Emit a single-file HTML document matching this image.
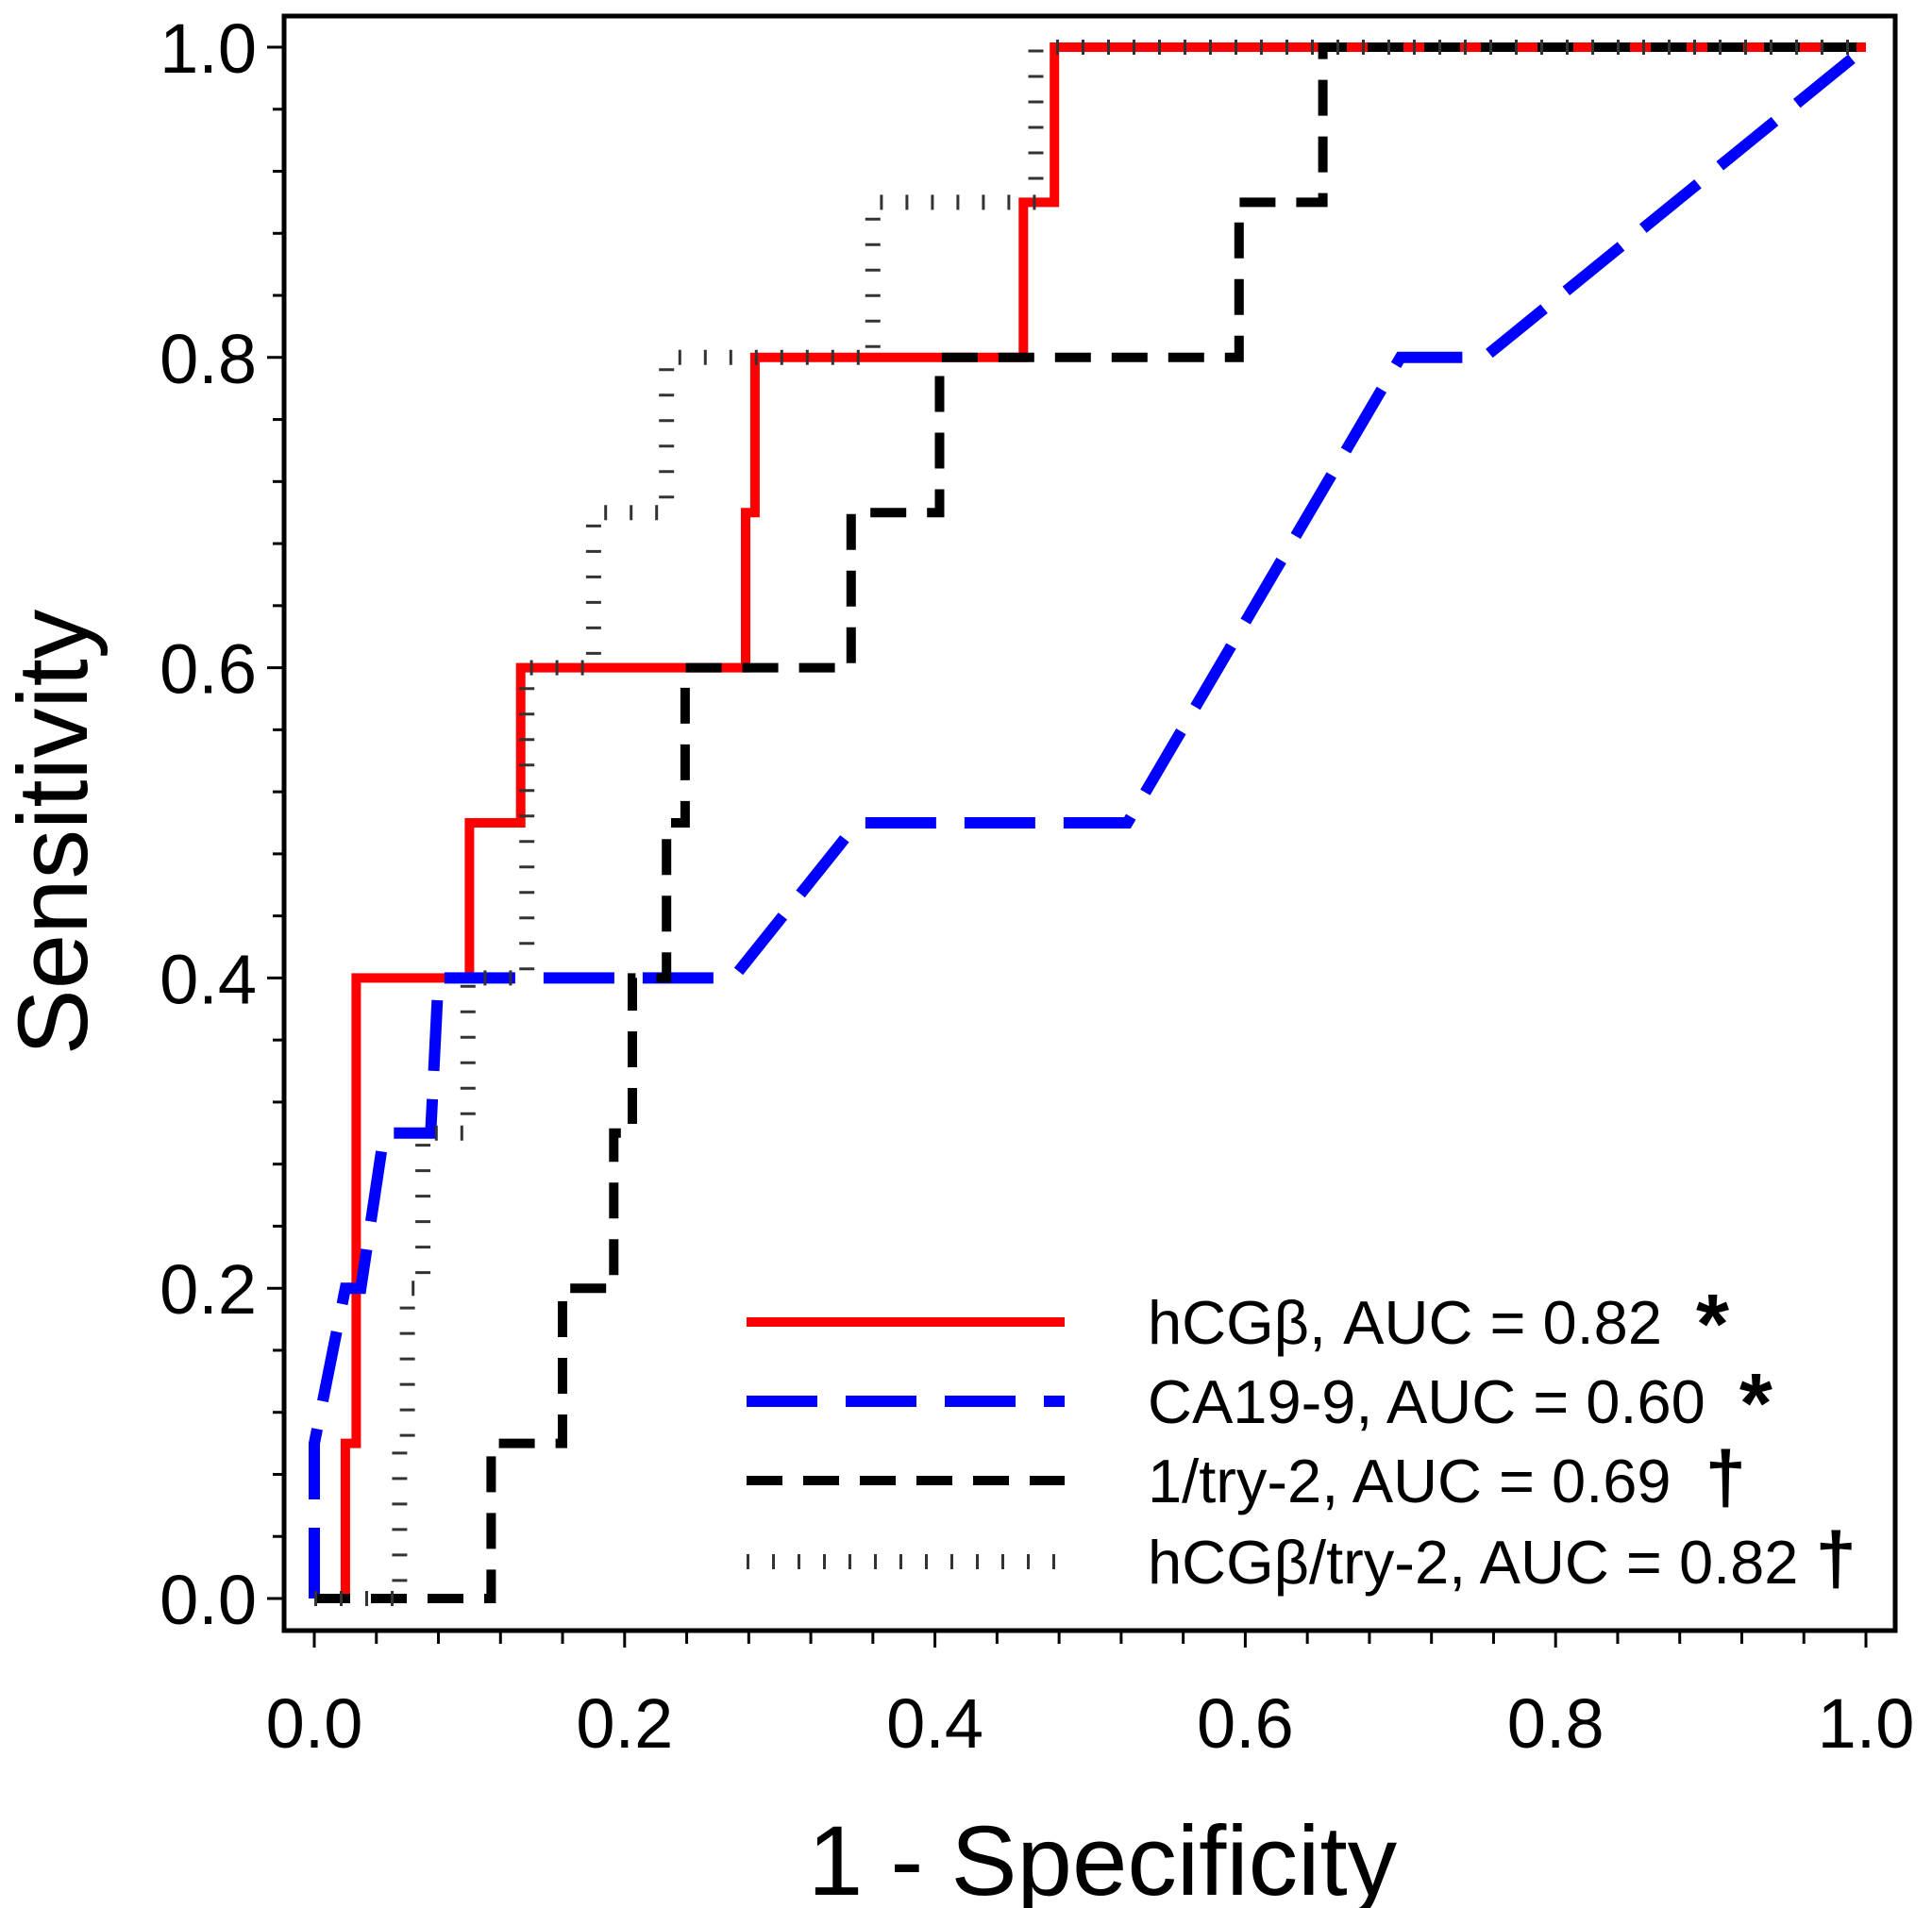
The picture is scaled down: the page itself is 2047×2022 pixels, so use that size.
<!DOCTYPE html>
<html><head><meta charset="utf-8"><style>
body{margin:0;background:#fff}
svg{display:block}
text{font-family:"Liberation Sans",sans-serif;fill:#000}
</style></head><body>
<svg id="chart" width="2047" height="2022" viewBox="0 0 2047 2022" xmlns="http://www.w3.org/2000/svg">
<rect x="0" y="0" width="2047" height="2022" fill="#fff"/>
<g id="marks"></g>
<g id="axes"></g>
<rect x="301" y="17" width="1707" height="1711" fill="none" stroke="#000" stroke-width="5"/>
<text x="0" y="0" font-size="105" text-anchor="middle" transform="translate(92,882) rotate(-90)">Sensitivity</text>
<text x="1168" y="2008" font-size="105" text-anchor="middle">1 - Specificity</text>
<g id="legend">
 <line x1="791" y1="1401" x2="1128" y2="1401" stroke="#ff0000" stroke-width="10"/>
 <text x="1216" y="1424" font-size="65">hCGβ, AUC = 0.82 <tspan dx="18" font-size="90" font-weight="bold" dy="10">*</tspan></text>
 <line x1="791" y1="1485" x2="1128" y2="1485" stroke="#0000ff" stroke-width="12" stroke-dasharray="75 30"/>
 <text x="1216" y="1508" font-size="65">CA19-9, AUC = 0.60 <tspan dx="18" font-size="90" font-weight="bold" dy="10">*</tspan></text>
 <line x1="791" y1="1569" x2="1128" y2="1569" stroke="#000" stroke-width="10" stroke-dasharray="38 22"/>
 <text x="1216" y="1592" font-size="65">1/try-2, AUC = 0.69 <tspan dx="18" font-size="78" font-weight="bold">†</tspan></text>
 <line x1="791" y1="1655" x2="1128" y2="1655" stroke="#333" stroke-width="16" stroke-dasharray="3 24"/>
 <text x="1216" y="1678" font-size="65">hCGβ/try-2, AUC = 0.82 <tspan dx="0" font-size="78" font-weight="bold">†</tspan></text>
</g>
</svg>
<script>
const redX=[0.02,0.02,0.027,0.027,0.1,0.1,0.133,0.133,0.278,0.278,0.284,0.284,0.457,0.457,0.477,0.477,1];
const redY=[0,0.1,0.1,0.4,0.4,0.5,0.5,0.6,0.6,0.7,0.7,0.8,0.8,0.9,0.9,1,1];
const blueX=[0,0,0.02,0.03,0.045,0.075,0.08,0.27,0.35,0.524,0.70,0.754,1];
const blueY=[0,0.1,0.2,0.2,0.3,0.3,0.4,0.4,0.5,0.5,0.8,0.8,1];
const blackX=[0,0.114,0.114,0.16,0.16,0.193,0.193,0.205,0.205,0.227,0.227,0.239,0.239,0.346,0.346,0.403,0.403,0.596,0.596,0.65,0.65,1];
const blackY=[0,0,0.1,0.1,0.2,0.2,0.3,0.3,0.4,0.4,0.5,0.5,0.6,0.6,0.7,0.7,0.8,0.8,0.9,0.9,1,1];
const grayX=[0,0.055,0.055,0.06,0.06,0.07,0.07,0.099,0.099,0.137,0.137,0.18,0.18,0.227,0.227,0.36,0.36,0.465,0.465,1];
const grayY=[0,0,0.1,0.1,0.2,0.2,0.3,0.3,0.4,0.4,0.6,0.6,0.7,0.7,0.8,0.8,0.9,0.9,1,1];
const xTicks=["0.0","0.2","0.4","0.6","0.8","1.0"];
const yTicks=["0.0","0.2","0.4","0.6","0.8","1.0"];
const NS="http://www.w3.org/2000/svg";
function sx(v){return 333+v*1644;}
function sy(v){return 1694-v*1644;}
const marks=document.getElementById('marks');
function series(xs,ys,color,w,dash,name){
  const p=document.createElementNS(NS,'path');
  let d='';
  for(let i=0;i<xs.length;i++){d+=(i?'L':'M')+sx(xs[i]).toFixed(1)+','+sy(ys[i]).toFixed(1);}
  p.setAttribute('d',d);p.setAttribute('fill','none');p.setAttribute('stroke',color);
  p.setAttribute('stroke-width',w);if(dash)p.setAttribute('stroke-dasharray',dash);
  
  
  marks.appendChild(p);
}
series(redX,redY,'#ff0000',10,null,'line-hcgb');
series(blueX,blueY,'#0000ff',12,'75 30','line-ca199');
series(blackX,blackY,'#000',10,'38 22','line-1-try2');
series(grayX,grayY,'#333',16,'3 24','line-hcgb-try2');
const axes=document.getElementById('axes');
function ln(x1,y1,x2,y2,w,name){const l=document.createElementNS(NS,'line');
 l.setAttribute('x1',x1);l.setAttribute('y1',y1);l.setAttribute('x2',x2);l.setAttribute('y2',y2);
 l.setAttribute('stroke','#000');l.setAttribute('stroke-width',w);
 
 
 axes.appendChild(l);}
for(let i=0;i<=25;i++){const v=i*0.04;const major=(i%5===0);
 ln(sx(v),1728,sx(v),1728+(major?18:14),3,'x-tick');
 ln(301,sy(v),301-(major?18:12),sy(v),3,'y-tick');}
xTicks.forEach((t,i)=>{const tx=document.createElementNS(NS,'text');
 tx.setAttribute('x',sx(i*0.2));tx.setAttribute('y',1852);tx.setAttribute('font-size',74);tx.setAttribute('text-anchor','middle');
 tx.textContent=t;
 
 
 axes.appendChild(tx);});
yTicks.forEach((t,i)=>{const tx=document.createElementNS(NS,'text');
 tx.setAttribute('x',272);tx.setAttribute('y',sy(i*0.2)+27);tx.setAttribute('font-size',74);tx.setAttribute('text-anchor','end');
 tx.textContent=t;
 
 
 axes.appendChild(tx);});
</script>
</body></html>
